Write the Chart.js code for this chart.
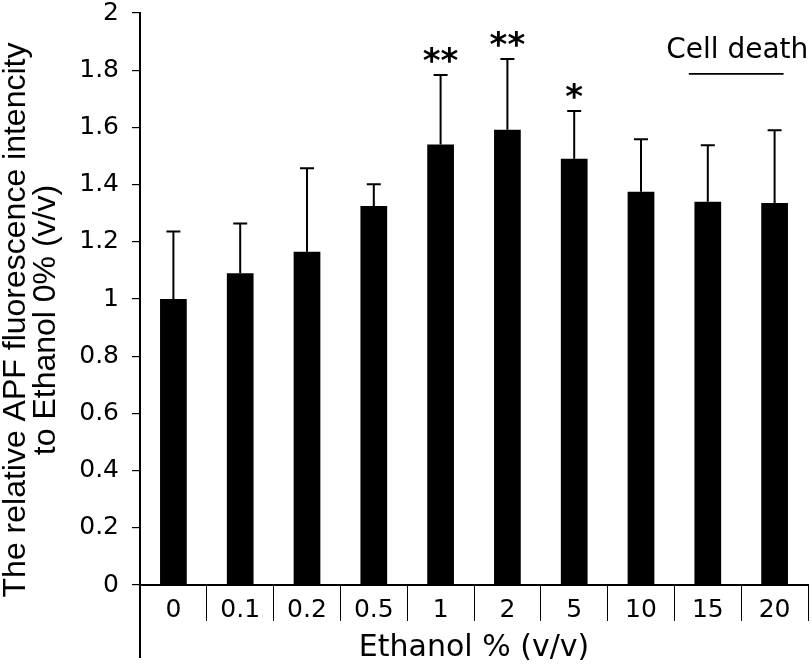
<!DOCTYPE html>
<html>
<head>
<meta charset="utf-8">
<script src="https://cdn.jsdelivr.net/npm/chart.js@4/dist/chart.umd.min.js"></script>
<style>
  body { margin: 0; background: #fff; }
  canvas { display: block; }
</style>
</head>
<body>
<canvas id="apfChart" width="812" height="666"></canvas>
<script>
// Chart data
const ethanolLevels = ["0", "0.1", "0.2", "0.5", "1", "2", "5", "10", "15", "20"];
const meanValues = [1.0, 1.09, 1.165, 1.325, 1.54, 1.592, 1.49, 1.375, 1.34, 1.336];
const sdValues = [0.236, 0.174, 0.292, 0.076, 0.243, 0.247, 0.167, 0.184, 0.198, 0.254];
const significance = ["", "", "", "", "**", "**", "*", "", "", ""];
const cellDeathGroup = ["15", "20"];
const yTicks = [0, 0.2, 0.4, 0.6, 0.8, 1, 1.2, 1.4, 1.6, 1.8, 2];
const yTitleLines = ["The relative APF fluorescence intencity", "to Ethanol 0% (v/v)"];

const TEXT_FONT = "'DejaVu Sans', Verdana, sans-serif";

// draws error bars, asterisks, the cell death mark, the y title and the axis extension
const extrasPlugin = {
  id: "extras",
  afterDatasetsDraw(chart) {
    const ctx = chart.ctx;
    const x = chart.scales.x;
    const y = chart.scales.y;
    const area = chart.chartArea;

    ctx.save();
    ctx.strokeStyle = "#000";
    ctx.fillStyle = "#000";
    ctx.lineWidth = 2;

    // error bars (upper only)
    meanValues.forEach((m, i) => {
      const cx = x.getPixelForValue(i);
      const top = y.getPixelForValue(m + sdValues[i]);
      const base = y.getPixelForValue(m);
      ctx.beginPath();
      ctx.moveTo(cx, base);
      ctx.lineTo(cx, top);
      ctx.moveTo(cx - 7, top);
      ctx.lineTo(cx + 7, top);
      ctx.stroke();

      if (significance[i]) {
        ctx.font = "bold 34px " + TEXT_FONT;
        ctx.textAlign = "center";
        ctx.textBaseline = "alphabetic";
        ctx.fillText(significance[i], cx, top - 3);
      }
    });

    // cell death line and label
    const i1 = ethanolLevels.indexOf(cellDeathGroup[0]);
    const i2 = ethanolLevels.indexOf(cellDeathGroup[cellDeathGroup.length - 1]);
    const c1 = x.getPixelForValue(i1);
    const c2 = x.getPixelForValue(i2);
    const lineY = y.getPixelForValue(1.787);
    ctx.lineWidth = 1.6;
    ctx.beginPath();
    ctx.moveTo(c1 - 19, lineY);
    ctx.lineTo(c2 + 9, lineY);
    ctx.stroke();
    ctx.font = "28px " + TEXT_FONT;
    ctx.textAlign = "center";
    ctx.textBaseline = "alphabetic";
    ctx.fillText("Cell death", (c1 + c2) / 2 - 4, y.getPixelForValue(1.843));

    // y axis line continues below the category axis
    ctx.lineWidth = 2;
    ctx.beginPath();
    ctx.moveTo(area.left, area.bottom);
    ctx.lineTo(area.left, 658);
    ctx.stroke();

    // y axis title, two rotated lines
    ctx.font = "32px 'Liberation Sans', Arial, sans-serif";
    ctx.translate(25, 320);
    ctx.rotate(-Math.PI / 2);
    ctx.textAlign = "center";
    ctx.textBaseline = "alphabetic";
    ctx.fillText(yTitleLines[0], 0, 0);
    ctx.fillText(yTitleLines[1], 0, 30);
    ctx.restore();
  },
};

const chart = new Chart(document.getElementById("apfChart"), {
  type: "bar",
  data: {
    labels: ethanolLevels,
    datasets: [
      {
        data: meanValues,
        backgroundColor: "#000",
        borderWidth: 0,
        barPercentage: 0.4,
        categoryPercentage: 1.0,
      },
    ],
  },
  options: {
    responsive: false,
    animation: false,
    layout: { padding: { top: 0, right: 4, left: 0, bottom: 0 } },
    plugins: {
      legend: { display: false },
      tooltip: { enabled: false },
    },
    scales: {
      x: {
        afterFit: (scale) => { scale.height = 81; },
        border: { display: true, color: "#000", width: 2 },
        grid: {
          offset: true,
          drawOnChartArea: false,
          drawTicks: true,
          tickLength: 36,
          lineWidth: 1,
          color: (c) => (c.index === 0 || c.index === ethanolLevels.length ? "transparent" : "#000"),
        },
        ticks: {
          autoSkip: false,
          maxRotation: 0,
          padding: -26,
          color: "#000",
          font: { family: TEXT_FONT, size: 25 },
        },
        title: {
          display: true,
          text: "Ethanol % (v/v)",
          color: "#000",
          padding: { top: 0, bottom: 0 },
          font: { family: TEXT_FONT, size: 30 },
        },
      },
      y: {
        min: 0,
        max: 2,
        afterFit: (scale) => {
          scale.width = 140;
          scale.paddingTop = 13;
        },
        afterBuildTicks: (scale) => {
          scale.ticks = yTicks.map((v) => ({ value: v }));
        },
        border: { display: true, color: "#000", width: 2 },
        grid: {
          drawOnChartArea: false,
          drawTicks: true,
          tickLength: 8,
          color: "#000",
          lineWidth: 1.2,
        },
        ticks: {
          padding: 13,
          color: "#000",
          font: { family: TEXT_FONT, size: 25 },
          callback: (v) => String(Number(v.toFixed(1))),
        },
      },
    },
  },
  plugins: [extrasPlugin],
});
</script>
</body>
</html>
